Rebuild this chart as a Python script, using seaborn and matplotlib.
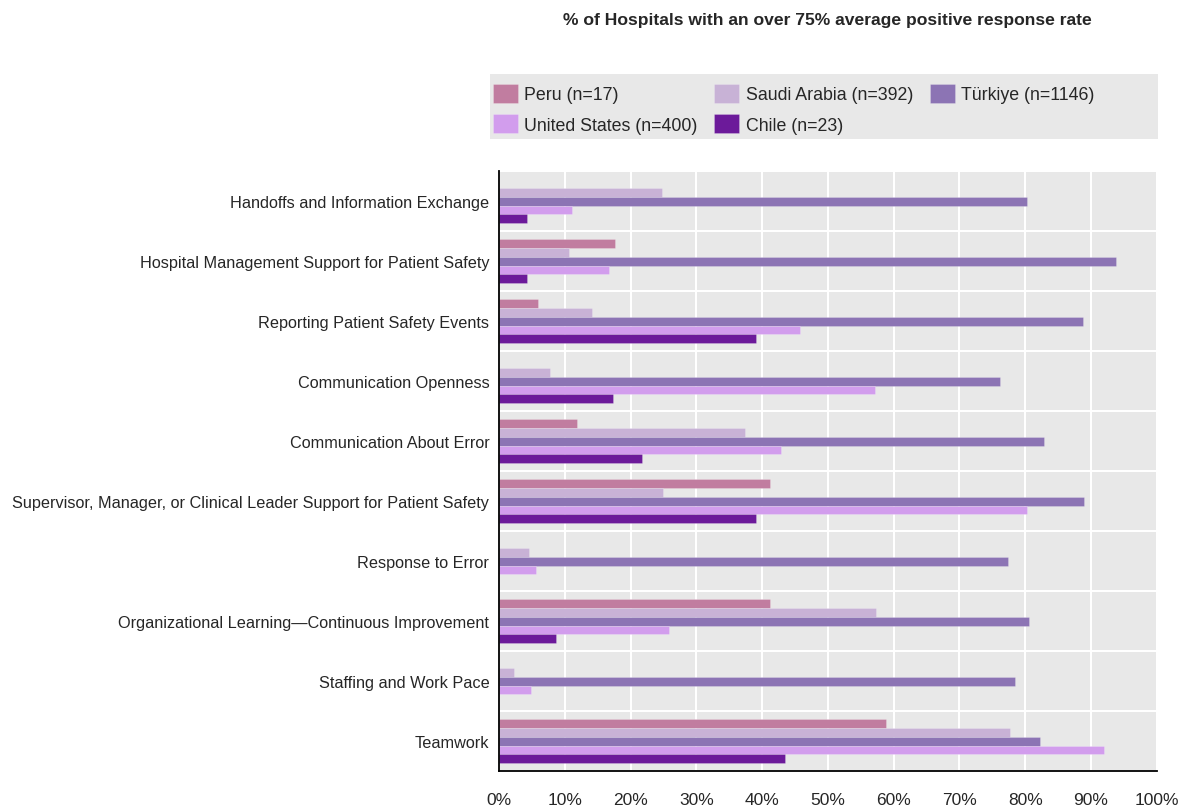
import matplotlib
matplotlib.use('Agg')
import matplotlib.pyplot as plt
import matplotlib.ticker as mticker
from matplotlib.patches import Rectangle
import numpy as np
import pandas as pd
import seaborn as sns

# данные
categories = [
    'Handoffs and Information Exchange',
    'Hospital Management Support for Patient Safety',
    'Reporting Patient Safety Events',
    'Communication Openness',
    'Communication About Error',
    'Supervisor, Manager, or Clinical Leader Support for Patient Safety',
    'Response to Error',
    'Organizational Learning\u2014Continuous Improvement',
    'Staffing and Work Pace',
    'Teamwork',
]
series = ['Peru (n=17)', 'Saudi Arabia (n=392)', 'Türkiye (n=1146)',
          'United States (n=400)', 'Chile (n=23)']

peru = [0, 17.6, 5.9, 0, 11.8, 41.2, 0, 41.2, 0, 58.8]
saudi = [24.7, 10.6, 14.2, 7.8, 37.4, 24.9, 4.5, 57.3, 2.2, 77.7]
turkiye = [80.3, 93.8, 88.8, 76.1, 82.8, 89.0, 77.4, 80.5, 78.5, 82.3]
usa = [11.1, 16.7, 45.7, 57.2, 42.9, 80.2, 5.6, 25.9, 4.9, 92.0]
chile = [4.3, 4.3, 39.1, 17.4, 21.7, 39.1, 0, 8.7, 0, 43.5]

colors = ['#c17da0', '#c8b2d6', '#8c74b4', '#d29ded', '#6c1a9a']

rows = []
for name, vals in zip(series, [peru, saudi, turkiye, usa, chile]):
    for cat, v in zip(categories, vals):
        rows.append({'category': cat, 'country': name, 'value': v})
df = pd.DataFrame(rows)

sns.set_style('white')
plt.rcParams['font.family'] = ['Liberation Sans', 'DejaVu Sans']

fig = plt.figure(figsize=(11.84, 8.12), dpi=100)
ax = fig.add_axes([0.4215, 0.049, 0.5555, 0.739])
ax.set_facecolor('#e8e8e8')

sns.barplot(data=df, y='category', x='value', hue='country', order=categories,
            hue_order=series, palette=colors, orient='h', width=0.73,
            saturation=1, edgecolor=(1, 1, 1, 0.35), linewidth=0.4,
            ax=ax, legend=True)

ax.set_xlim(0, 100)
ax.set_ylim(9.5, -0.5)
ax.xaxis.set_major_locator(mticker.MultipleLocator(10))
ax.xaxis.set_major_formatter(mticker.FuncFormatter(lambda v, p: f'{v:.0f}%'))
ax.set_yticks(np.arange(-0.5, 10, 1), minor=True)
ax.grid(axis='x', which='major', color='white', linewidth=1.5)
ax.grid(axis='y', which='minor', color='white', linewidth=1.5)
ax.set_axisbelow(True)

ax.tick_params(axis='y', which='major', length=0, labelsize=11.7, pad=7)
ax.tick_params(axis='y', which='minor', length=5, width=1.2, direction='in', color='black')
ax.tick_params(axis='x', which='major', length=6, width=1.2, direction='in',
               labelsize=12.5, pad=15, color='black')
for s in ['top', 'right']:
    ax.spines[s].set_visible(False)
for s in ['left', 'bottom']:
    ax.spines[s].set_color('black')
    ax.spines[s].set_linewidth(1.3)
ax.set_xlabel('')
ax.set_ylabel('')

# серый фон под легендой
fig.add_artist(Rectangle((0.4139, 0.8276), 0.5642, 0.080, transform=fig.transFigure,
                         facecolor='#e8e8e8', edgecolor='none', zorder=0))

# легенда: порядок по строкам, как на оригинале
h, l = ax.get_legend_handles_labels()
ax.legend_.remove()
idx = [0, 3, 1, 4, 2]
fig.legend([h[i] for i in idx], [l[i] for i in idx], ncol=3,
           loc='upper left', bbox_to_anchor=(0.4164, 0.8957),
           bbox_transform=fig.transFigure, frameon=False, fontsize=12.8,
           handlelength=1.4, handleheight=1.3, handletextpad=0.35,
           columnspacing=0.95, borderaxespad=0, borderpad=0, labelspacing=0.6)

fig.text(0.699, 0.975, '% of Hospitals with an over 75% average positive response rate',
         ha='center', va='center', fontsize=12.6, fontweight='bold')

fig.savefig('out.png', dpi=100)
